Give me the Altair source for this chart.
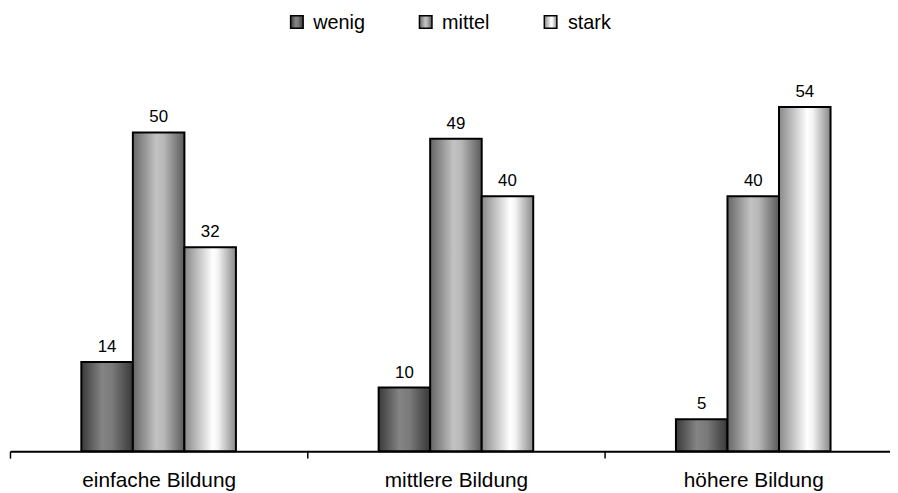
import altair as alt
import pandas as pd

categories = ["einfache Bildung", "mittlere Bildung", "höhere Bildung"]
series = ["wenig", "mittel", "stark"]
wenig = [14, 10, 5]
mittel = [50, 49, 40]
stark = [32, 40, 54]

rows = []
for i, c in enumerate(categories):
    for s, vals in zip(series, [wenig, mittel, stark]):
        rows.append({"Bildung": c, "series": s, "value": vals[i]})
df = pd.DataFrame(rows)

FONT = "Liberation Sans"


def grad(stops):
    return alt.Gradient(
        gradient="linear",
        stops=[alt.GradientStop(color=c, offset=o) for o, c in stops],
        x1=0, x2=1, y1=0, y2=0,
    )


gradients = {
    "wenig": grad([(0, "#3a3a3a"), (0.4, "#848484"), (0.6, "#7a7a7a"), (1, "#383838")]),
    "mittel": grad([(0, "#666666"), (0.45, "#c2c2c2"), (0.6, "#b8b8b8"), (1, "#5a5a5a")]),
    "stark": grad([(0, "#888888"), (0.55, "#ffffff"), (0.65, "#f4f4f4"), (1, "#888888")]),
}

x_enc = alt.X(
    "Bildung:N",
    sort=categories,
    scale=alt.Scale(domain=categories, paddingInner=0, paddingOuter=0),
    axis=alt.Axis(
        title=None, labelAngle=0, tickBand="extent", domainColor="black",
        domainWidth=2, tickColor="black", tickWidth=1.5, tickSize=7,
        labelFont=FONT, labelFontSize=21, labelColor="black",
        labelBaseline="alphabetic", labelPadding=29, grid=False,
    ),
)
xo_enc = alt.XOffset(
    "series:N", sort=series,
    scale=alt.Scale(domain=series, range=[72, 228], paddingInner=0, paddingOuter=0),
)
y_enc = alt.Y("value:Q", scale=alt.Scale(domain=[0, 60], nice=False), axis=None)

base = alt.Chart(df)
layers = []
for s in series:
    layers.append(
        base.transform_filter(alt.datum.series == s)
        .mark_bar(fill=gradients[s], stroke="black", strokeWidth=2)
        .encode(x=x_enc, xOffset=xo_enc, y=y_enc)
    )

labels = base.mark_text(
    font=FONT, fontSize=17, color="black", baseline="alphabetic", dy=-10
).encode(x=x_enc, xOffset=xo_enc, y=y_enc, text=alt.Text("value:Q"))
layers.append(labels)

legend_sq_x = [289.5, 419.5, 545.5]
legend_tx_x = [306, 436, 563]
for s, sx, tx in zip(series, legend_sq_x, legend_tx_x):
    ld = alt.Chart(pd.DataFrame({"series": [s]}))
    layers.append(
        ld.mark_square(size=160, fill=gradients[s], stroke="black", strokeWidth=1.5, opacity=1)
        .encode(x=alt.value(sx), y=alt.value(-47))
    )
    layers.append(
        ld.mark_text(font=FONT, fontSize=20, color="black", align="left", baseline="middle")
        .encode(x=alt.value(tx), y=alt.value(-46), text="series:N")
    )

chart = (
    alt.layer(*layers)
    .properties(
        width=900, height=386,
        autosize=alt.AutoSizeParams(type="none"),
        padding={"left": 2, "top": 59, "right": -12, "bottom": 38},
    )
    .configure_view(stroke=None)
)

chart.save("out.html", embed_options={"renderer": "svg", "actions": False})
